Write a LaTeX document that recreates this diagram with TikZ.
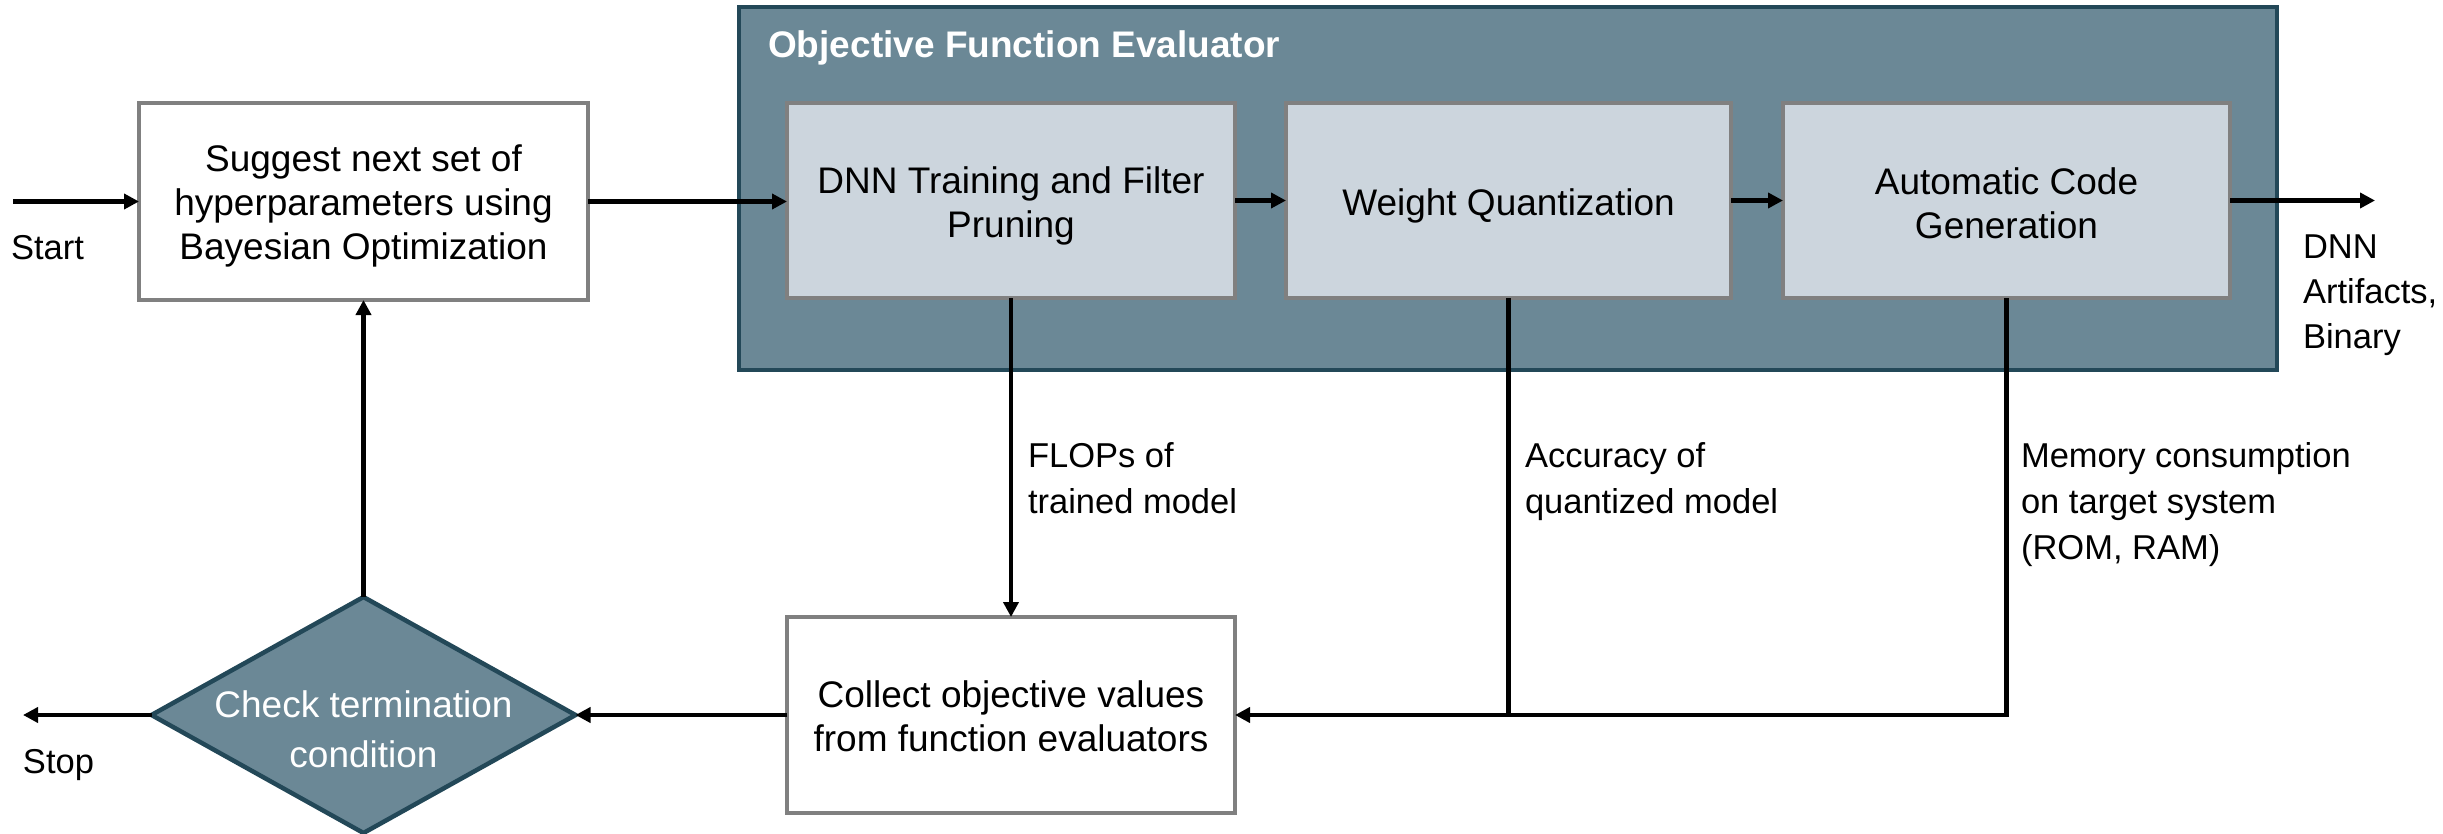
\documentclass[tikz,border=0pt]{standalone}
\usepackage{fontspec}
\setmainfont{Liberation Sans}
\usetikzlibrary{arrows.meta,shapes.geometric}
\definecolor{frameFill}{HTML}{6B8896}
\definecolor{frameBorder}{HTML}{234858}
\definecolor{boxFill}{HTML}{CCD5DD}
\definecolor{boxBorder}{HTML}{808080}
\newcommand\bxfont{\fontsize{37}{44}\selectfont}
\newcommand\lblfont{\fontsize{34.5}{46}\selectfont}
\newcommand\tup[1]{\rule{0pt}{#1}}
\tikzset{
  wbox/.style={draw=boxBorder, fill=white, line width=4.5pt, inner sep=0pt, outer sep=0pt, align=center, font=\bxfont},
  gbox/.style={wbox, fill=boxFill},
  lbl/.style={anchor=base west, inner sep=0pt, outer sep=0pt, align=left, font=\lblfont},
  arr/.style={line width=4.5pt, -{Triangle[length=15pt,width=15pt]}},
  ln/.style={line width=4.5pt}
}
\begin{document}
\begin{tikzpicture}[x=1pt,y=-1pt]
\useasboundingbox (0,0) rectangle (2443,834);
% frame
\node[draw=frameBorder, fill=frameFill, line width=4.5pt, inner sep=0pt, outer sep=0pt,
      minimum width=1538pt, minimum height=363pt] (ofe) at (1508,188.5) {};
\node[anchor=base west, inner sep=0pt, text=white, font=\bfseries\fontsize{37}{44}\selectfont] (title) at (768,58) {Objective Function Evaluator};
% boxes
\node[wbox, minimum width=449pt, minimum height=197pt] (suggest) at (363.5,201.5) {\tup{36pt}Suggest next set of\\hyperparameters using\\Bayesian Optimization};
\node[gbox, minimum width=448pt, minimum height=195pt] (dnn) at (1011,200.5) {\tup{37pt}DNN Training and Filter\\Pruning};
\node[gbox, minimum width=445pt, minimum height=195pt] (wq) at (1508.5,200.5) {\tup{37pt}Weight Quantization};
\node[gbox, minimum width=447pt, minimum height=195pt] (acg) at (2006.5,200.5) {\tup{32pt}Automatic Code\\Generation};
\node[wbox, minimum width=448pt, minimum height=196pt] (collect) at (1011,715) {\tup{30pt}Collect objective values\\from function evaluators};
\node[diamond, draw=frameBorder, fill=frameFill, line width=4.5pt, inner sep=0pt, outer sep=0pt,
      minimum width=424pt, minimum height=236pt] (check) at (363.5,715) {};
\node[inner sep=0pt, text=white, align=center, font=\fontsize{37}{50}\selectfont] (checktext) at (363.5,729.5) {Check termination\\condition};
% labels (base = last line)
\node[lbl] (startlbl) at (11,260) {Start};
\node[lbl] (stoplbl) at (23,773) {Stop};
\node[lbl, font=\fontsize{34.5}{45}\selectfont] (outlbl) at (2303,348) {DNN\\Artifacts,\\Binary};
\node[lbl] (flops) at (1028,513) {FLOPs of\\trained model};
\node[lbl] (acc) at (1525,513) {Accuracy of\\quantized model};
\node[lbl] (mem) at (2021,559) {Memory consumption\\on target system\\(ROM, RAM)};
% free ends
\coordinate (startpt) at (13,201.5);
\coordinate (stoppt) at (23,715);
\coordinate (outpt) at (2375,200.5);
% connectors
\draw[arr] (startpt) -- (suggest.west);
\draw[arr] (suggest.east) -- (suggest.east -| dnn.west);
\draw[arr] (dnn.east) -- (wq.west);
\draw[arr] (wq.east) -- (acg.west);
\draw[arr] (acg.east) -- (outpt);
\draw[arr] (dnn.south) -- (collect.north);
\draw[ln] (wq.south) -- (wq.south |- collect.east);
\draw[arr] (acg.south) |- (collect.east);
\draw[arr] (collect.west) -- (check.east);
\draw[arr] (check.west) -- (stoppt);
\draw[arr] (check.north) -- (suggest.south);
\end{tikzpicture}
\end{document}
